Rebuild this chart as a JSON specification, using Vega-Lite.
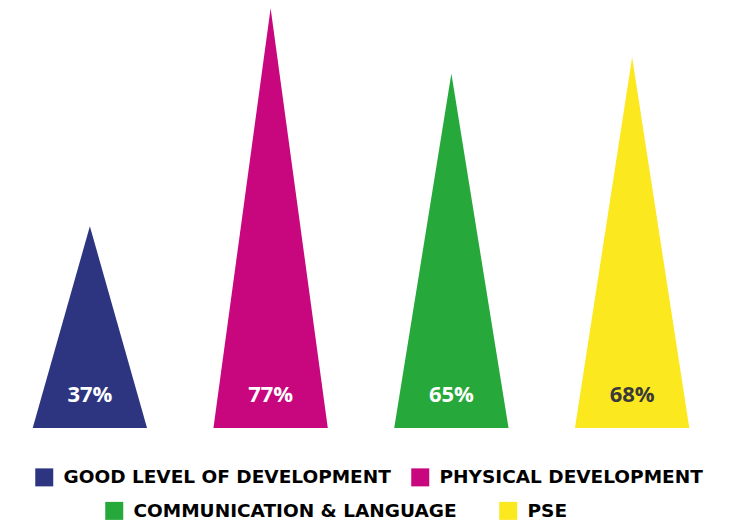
{
  "$schema": "https://vega.github.io/schema/vega-lite/v6.json",
  "autosize": {"type": "none"},
  "padding": {"left": 0, "top": 0, "right": 0, "bottom": 103},
  "width": 732,
  "height": 428,
  "background": "white",
  "config": {"view": {"stroke": null}},
  "data": {
    "values": [
      {"measure": "GOOD LEVEL OF DEVELOPMENT", "vertex": "left", "value": 0},
      {"measure": "GOOD LEVEL OF DEVELOPMENT", "vertex": "peak", "value": 37},
      {"measure": "GOOD LEVEL OF DEVELOPMENT", "vertex": "right", "value": 0},
      {"measure": "PHYSICAL DEVELOPMENT", "vertex": "left", "value": 0},
      {"measure": "PHYSICAL DEVELOPMENT", "vertex": "peak", "value": 77},
      {"measure": "PHYSICAL DEVELOPMENT", "vertex": "right", "value": 0},
      {"measure": "COMMUNICATION & LANGUAGE", "vertex": "left", "value": 0},
      {"measure": "COMMUNICATION & LANGUAGE", "vertex": "peak", "value": 65},
      {"measure": "COMMUNICATION & LANGUAGE", "vertex": "right", "value": 0},
      {"measure": "PSE", "vertex": "left", "value": 0},
      {"measure": "PSE", "vertex": "peak", "value": 68},
      {"measure": "PSE", "vertex": "right", "value": 0}
    ]
  },
  "encoding": {
    "x": {
      "field": "measure",
      "type": "nominal",
      "scale": {"type": "band", "domain": ["GOOD LEVEL OF DEVELOPMENT", "PHYSICAL DEVELOPMENT", "COMMUNICATION & LANGUAGE", "PSE"], "range": [32.7, 689.3], "paddingInner": 0.3674, "paddingOuter": 0},
      "axis": null
    },
    "xOffset": {
      "field": "vertex",
      "type": "nominal",
      "scale": {"type": "point", "domain": ["left", "peak", "right"], "padding": 0}
    },
    "y": {"field": "value", "type": "quantitative", "stack": null, "scale": {"domain": [0, 78.5]}, "axis": null}
  },
  "layer": [
    {
      "mark": {"type": "line", "strokeWidth": 0, "fillOpacity": 1},
      "encoding": {
        "order": {"field": "vertex"},
        "fill": {
          "field": "measure",
          "type": "nominal",
          "scale": {"domain": ["GOOD LEVEL OF DEVELOPMENT", "PHYSICAL DEVELOPMENT", "COMMUNICATION & LANGUAGE", "PSE"], "range": ["#2D3581", "#C8067E", "#26A83A", "#FCE81E"]},
          "legend": null
        }
      }
    },
    {
      "transform": [{"filter": "datum.vertex === 'peak' && (datum.measure === 'GOOD LEVEL OF DEVELOPMENT' || datum.measure === 'PHYSICAL DEVELOPMENT')"}],
      "mark": {"type": "point", "filled": true, "opacity": 1, "size": 0},
      "encoding": {
        "color": {
          "field": "measure",
          "type": "nominal",
          "scale": {"domain": ["GOOD LEVEL OF DEVELOPMENT", "PHYSICAL DEVELOPMENT"], "range": ["#2D3581", "#C8067E"]},
          "legend": {
            "title": null, "orient": "none", "legendX": 35, "legendY": 468, "direction": "horizontal",
            "symbolType": "square", "symbolSize": 324, "symbolStrokeWidth": 0, "symbolOpacity": 1,
            "labelFont": "DejaVu Sans", "labelFontWeight": "bold", "labelFontSize": 18.5, "labelColor": "black",
            "labelOffset": 10, "columnPadding": 20, "labelLimit": 500, "padding": 0
          }
        }
      }
    },
    {
      "transform": [{"filter": "datum.vertex === 'peak' && (datum.measure === 'COMMUNICATION & LANGUAGE' || datum.measure === 'PSE')"}],
      "mark": {"type": "point", "filled": true, "opacity": 1, "size": 0},
      "encoding": {
        "fill": {
          "field": "measure",
          "type": "nominal",
          "scale": {"domain": ["COMMUNICATION & LANGUAGE", "PSE"], "range": ["#26A83A", "#FCE81E"]},
          "legend": {
            "title": null, "orient": "none", "legendX": 105, "legendY": 501.5, "direction": "horizontal",
            "symbolType": "square", "symbolSize": 324, "symbolStrokeWidth": 0, "symbolOpacity": 1,
            "labelFont": "DejaVu Sans", "labelFontWeight": "bold", "labelFontSize": 18.5, "labelColor": "black",
            "labelOffset": 10, "columnPadding": 42, "labelLimit": 500, "padding": 0
          }
        }
      }
    },
    {
      "transform": [
        {"filter": "datum.vertex === 'peak'"},
        {"calculate": "datum.value + '%'", "as": "label"}
      ],
      "mark": {"type": "text", "font": "Open Sans", "fontWeight": "bold", "fontSize": 22, "baseline": "alphabetic", "dy": -26},
      "encoding": {
        "y": {"datum": 0, "type": "quantitative"},
        "text": {"field": "label"},
        "color": {"condition": {"test": "datum.measure === 'PSE'", "value": "#3A3A3A"}, "value": "white"}
      }
    }
  ],
  "resolve": {"scale": {"fill": "independent"}, "legend": {"fill": "independent"}}
}
